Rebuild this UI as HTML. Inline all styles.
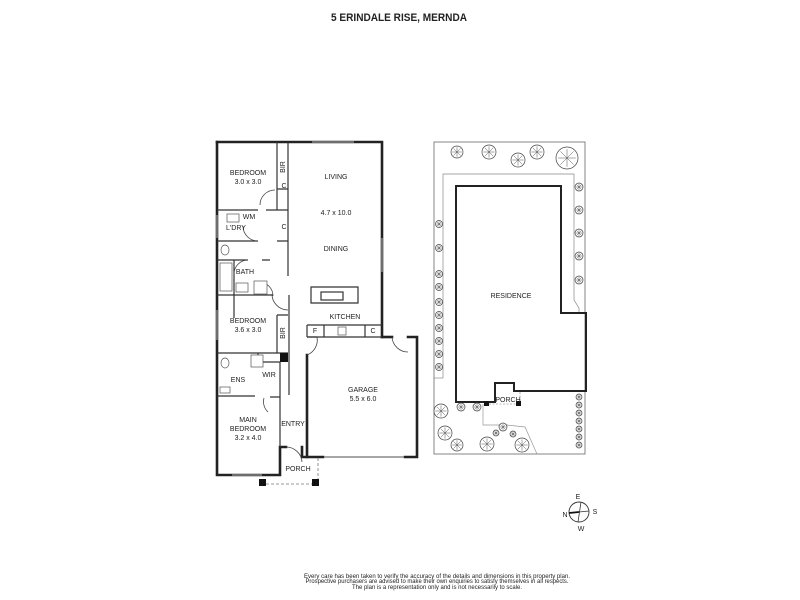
<!DOCTYPE html>
<html><head><meta charset="utf-8"><style>
html,body{margin:0;padding:0;background:#fff;width:800px;height:600px;overflow:hidden}
svg{display:block}
text{font-family:"Liberation Sans Narrow","Liberation Sans",sans-serif;fill:#222}
.l{font-size:7px;text-anchor:middle}
</style></head><body>
<svg width="800" height="600" viewBox="0 0 800 600" xmlns="http://www.w3.org/2000/svg">
<defs>
<g id="tree"><circle r="1" fill="#fff" stroke="#444" stroke-width="0.7" vector-effect="non-scaling-stroke"/><path d="M-0.8,0H0.8M0,-0.8V0.8M-0.6,-0.6L0.6,0.6M-0.6,0.6L0.6,-0.6" stroke="#555" stroke-width="0.5" vector-effect="non-scaling-stroke" fill="none"/></g>
</defs>
<text x="399" y="21" text-anchor="middle" font-size="11" font-weight="bold" textLength="136" lengthAdjust="spacingAndGlyphs">5 ERINDALE RISE, MERNDA</text>

<!-- floor plan -->
<g fill="none" stroke="#222" stroke-width="2.6" stroke-linecap="square">
<path d="M217,142 H382 V337"/>
<path d="M217,142 V475 H280 V447 H286"/>
<path d="M307,355 V457 H323"/>
<path d="M405,457 H417 V337 H408"/>
<path d="M392,337 H382"/>
<path d="M302,447 V457 H307"/>
</g>
<g fill="none" stroke="#333" stroke-width="1.2">
<path d="M277,142 V210 M288,142 V276 M277,189 H288 M277,210 H288 M277,241 H288"/>
<path d="M217,210 H258 M266,210 H277"/>
<path d="M217,241 H258"/>
<path d="M217,260 H248 M262,260 H270"/>
<path d="M217,295 H273"/>
<path d="M289,295 V395"/>
<path d="M217,353 H280 M277,315 V353 H288 M277,315 H288"/>
<path d="M217,396 H255 M258,353 V362 M258,362 H280 M270,397 H280 M280,362 V447"/>
<path d="M307,325 H382 M307,337 H382 M307,325 V337 M324,325 V337 M365,325 V337"/>
<path d="M311,287 H358 V303 H311 Z"/>
<rect x="321" y="292" width="22" height="8"/>
<path d="M307,337 H317"/>
<path d="M234,295 V318 M234,260 V295"/>
</g>
<rect x="280" y="353" width="8" height="9" fill="#111"/>
<!-- door arcs -->
<g fill="none" stroke="#444" stroke-width="0.8">
<path d="M275,190 A15,15 0 0 0 260,205"/>
<path d="M258,241 A15,15 0 0 1 243,226"/>
<path d="M248,260 A14,14 0 0 0 234,274"/>
<path d="M273,296 A14,14 0 0 0 259,282"/>
<path d="M288,310 A16,16 0 0 1 272,294"/>
<path d="M317,337 A16,16 0 0 1 307,355"/>
<path d="M392,337 A16,16 0 0 0 408,352"/>
<path d="M264,398 A14,14 0 0 0 268,412"/>
<path d="M286,447 A16,16 0 0 1 302,462"/>
</g>
<!-- windows -->
<g stroke="#888" stroke-width="1.5">
<line x1="312" y1="142" x2="354" y2="142"/><line x1="382" y1="238" x2="382" y2="272"/>
<line x1="217" y1="215" x2="217" y2="238"/><line x1="217" y1="310" x2="217" y2="340"/>
<line x1="232" y1="475" x2="262" y2="475"/><line x1="324" y1="457" x2="404" y2="457"/>
</g>
<g fill="#fff" stroke="#555" stroke-width="0.7">
<rect x="227" y="214" width="12" height="8"/><rect x="220" y="263" width="12" height="28"/>
<rect x="236" y="283" width="12" height="9"/><rect x="254" y="281" width="13" height="13"/>
<rect x="251" y="355" width="12" height="12"/><ellipse cx="225" cy="363" rx="4" ry="5"/>
<ellipse cx="225" cy="250" rx="4" ry="5"/><rect x="220" y="387" width="10" height="6"/>
<rect x="338" y="327" width="8" height="8"/>
</g>
<rect x="259" y="479" width="7" height="7" fill="#111"/><rect x="312" y="479" width="7" height="7" fill="#111"/>
<path d="M266,484 H312 M318,458 V479" stroke="#777" stroke-width="0.8" stroke-dasharray="3,2" fill="none"/>
<text class="l" x="248" y="175">BEDROOM</text><text class="l" x="248" y="184">3.0 x 3.0</text>
<text class="l" x="336" y="179">LIVING</text><text class="l" x="336" y="215">4.7 x 10.0</text>
<text class="l" x="336" y="251">DINING</text><text class="l" x="345" y="319">KITCHEN</text>
<text class="l" x="284" y="188" font-size="6">C</text><text class="l" x="284" y="229" font-size="6">C</text>
<text class="l" x="315" y="333" font-size="6">F</text><text class="l" x="373" y="333" font-size="6">C</text>
<text class="l" transform="translate(285,167) rotate(-90)" font-size="6">BIR</text>
<text class="l" transform="translate(285,333) rotate(-90)" font-size="6">BIR</text>
<text class="l" x="249" y="219" font-size="6">WM</text><text class="l" x="236" y="230">L'DRY</text>
<text class="l" x="245" y="274">BATH</text>
<text class="l" x="248" y="323">BEDROOM</text><text class="l" x="248" y="332">3.6 x 3.0</text>
<text class="l" x="238" y="382">ENS</text><text class="l" x="269" y="377" font-size="6">WIR</text>
<text class="l" x="248" y="422">MAIN</text><text class="l" x="248" y="431">BEDROOM</text><text class="l" x="248" y="440">3.2 x 4.0</text>
<text class="l" x="293" y="426">ENTRY</text><text class="l" x="298" y="471">PORCH</text>
<text class="l" x="363" y="392">GARAGE</text><text class="l" x="363" y="401">5.5 x 6.0</text>

<!-- site plan -->
<rect x="434" y="142" width="151" height="312" fill="none" stroke="#666" stroke-width="0.8"/>
<path d="M443,378 V174 H574 V300 L579,308 V313" fill="none" stroke="#888" stroke-width="0.7"/>
<path d="M434,378 H443" stroke="#888" stroke-width="0.7"/>
<path d="M456,402 V186 H561 V313 H586 V391 H514 V383 H495 V402 Z" fill="none" stroke="#222" stroke-width="2"/>
<path d="M483,404 V425 H507 L525,427 L537,454" fill="none" stroke="#999" stroke-width="0.7"/>
<rect x="484" y="401" width="5" height="5" fill="#111"/><rect x="516" y="401" width="5" height="5" fill="#111"/>
<path d="M489,404 H516 M520,392 V401" stroke="#777" stroke-width="0.6" stroke-dasharray="2,1.5" fill="none"/>
<text class="l" x="511" y="298">RESIDENCE</text><text class="l" x="508" y="402" font-size="6">PORCH</text>
<g>
<use href="#tree" transform="translate(457,152) scale(6)"/><use href="#tree" transform="translate(489,152) scale(7)"/>
<use href="#tree" transform="translate(518,160) scale(7)"/><use href="#tree" transform="translate(537,152) scale(7)"/>
<use href="#tree" transform="translate(567,158) scale(11)"/>
<use href="#tree" transform="translate(579,187) scale(4)"/><use href="#tree" transform="translate(579,210) scale(4)"/>
<use href="#tree" transform="translate(579,233) scale(4)"/><use href="#tree" transform="translate(579,256) scale(4)"/>
<use href="#tree" transform="translate(579,280) scale(4)"/>
<use href="#tree" transform="translate(439,224) scale(3.5)"/><use href="#tree" transform="translate(439,248) scale(3.5)"/>
<use href="#tree" transform="translate(439,274) scale(3.5)"/><use href="#tree" transform="translate(439,287) scale(3.5)"/>
<use href="#tree" transform="translate(439,302) scale(3.5)"/><use href="#tree" transform="translate(439,315) scale(3.5)"/>
<use href="#tree" transform="translate(439,328) scale(3.5)"/><use href="#tree" transform="translate(439,341) scale(3.5)"/>
<use href="#tree" transform="translate(439,354) scale(3.5)"/><use href="#tree" transform="translate(439,367) scale(3.5)"/>
<use href="#tree" transform="translate(441,411) scale(7)"/><use href="#tree" transform="translate(445,433) scale(7)"/>
<use href="#tree" transform="translate(457,445) scale(6)"/><use href="#tree" transform="translate(461,407) scale(4)"/>
<use href="#tree" transform="translate(477,407) scale(4)"/><use href="#tree" transform="translate(487,444) scale(7)"/>
<use href="#tree" transform="translate(503,427) scale(4)"/><use href="#tree" transform="translate(496,433) scale(3)"/>
<use href="#tree" transform="translate(513,434) scale(3)"/><use href="#tree" transform="translate(522,445) scale(7)"/>
<use href="#tree" transform="translate(579,397) scale(3)"/><use href="#tree" transform="translate(579,405) scale(3)"/>
<use href="#tree" transform="translate(579,413) scale(3)"/><use href="#tree" transform="translate(579,421) scale(3)"/>
<use href="#tree" transform="translate(579,429) scale(3)"/><use href="#tree" transform="translate(579,437) scale(3)"/>
<use href="#tree" transform="translate(579,445) scale(3)"/>
</g>

<!-- compass -->
<circle cx="579" cy="512" r="10" fill="none" stroke="#333" stroke-width="0.9"/>
<path d="M581,502 L578,522 M569,513 L589,511" stroke="#333" stroke-width="0.8"/>
<path d="M569,513 L579,512" stroke="#111" stroke-width="1.8"/>
<text class="l" x="578" y="499" font-size="7">E</text><text class="l" x="565" y="517" font-size="7">N</text>
<text class="l" x="595" y="514" font-size="7">S</text><text class="l" x="581" y="531" font-size="7">W</text>

<g font-size="6" text-anchor="middle">
<text x="437" y="578" textLength="266" lengthAdjust="spacingAndGlyphs" style="font-family:'Liberation Sans',sans-serif">Every care has been taken to verify the accuracy of the details and dimensions in this property plan.</text>
<text x="437" y="583" textLength="263" lengthAdjust="spacingAndGlyphs" style="font-family:'Liberation Sans',sans-serif">Prospective purchasers are advised to make their own enquiries to satisfy themselves in all respects.</text>
<text x="437" y="589" textLength="170" lengthAdjust="spacingAndGlyphs" style="font-family:'Liberation Sans',sans-serif">The plan is a representation only and is not necessarily to scale.</text>
</g>
</svg>
</body></html>
